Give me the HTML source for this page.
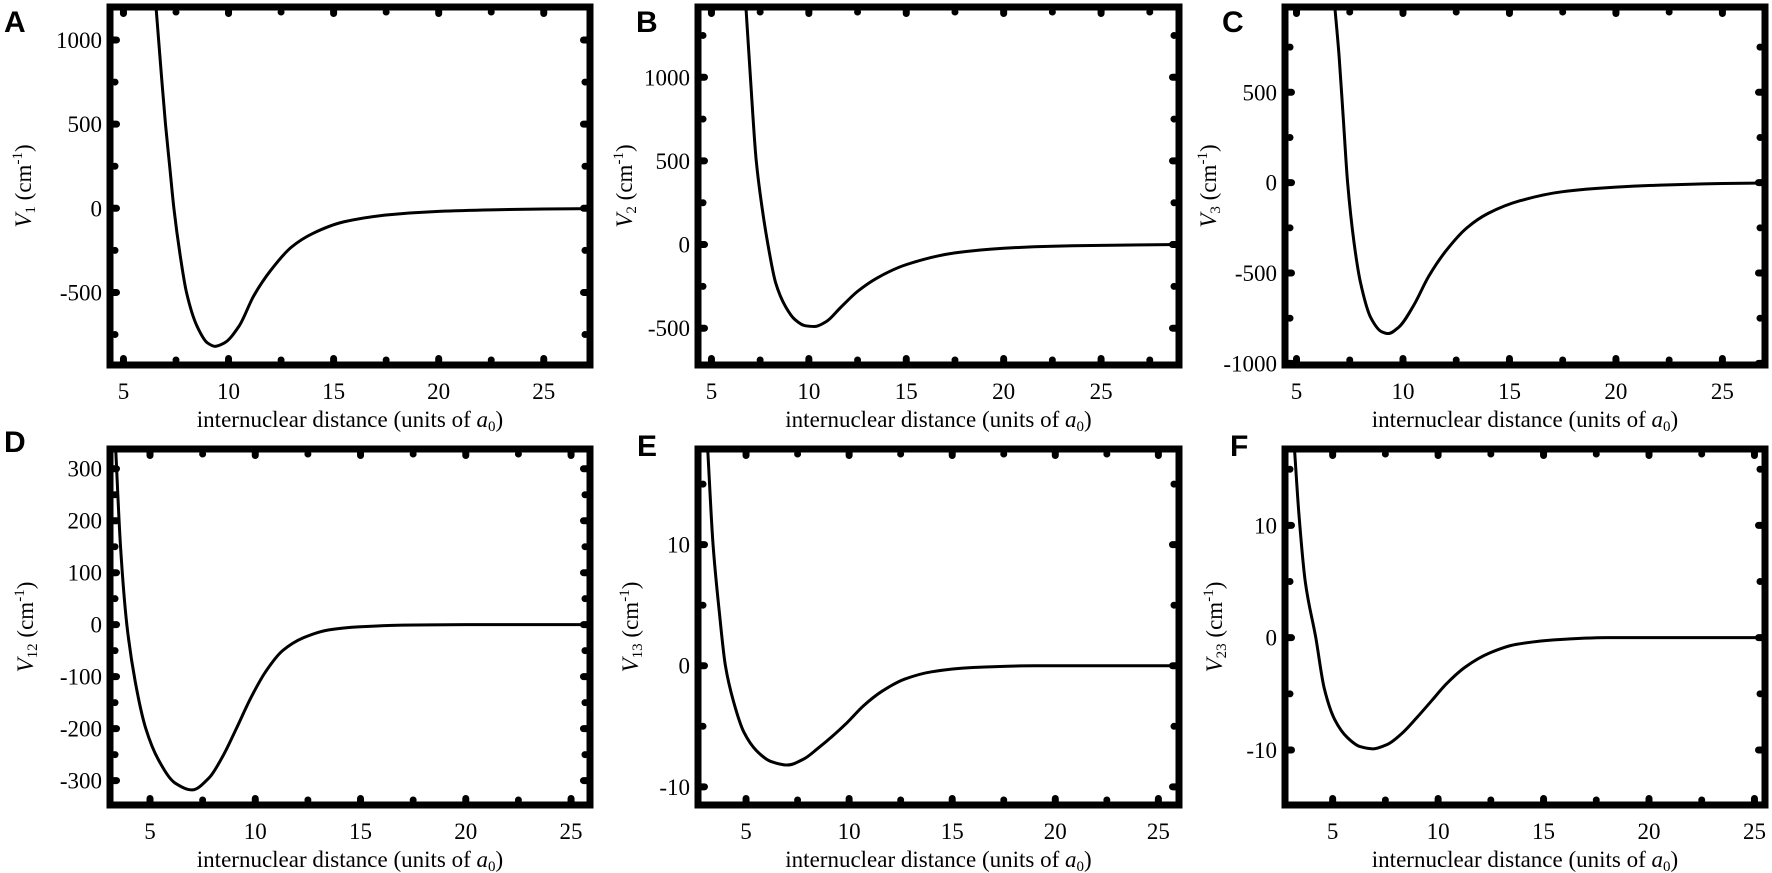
<!DOCTYPE html>
<html><head><meta charset="utf-8"><style>
html,body{margin:0;padding:0;background:#fff;}
svg{display:block;}
text{font-family:"Liberation Serif",serif;fill:#000;}
.lbl{font-family:"Liberation Sans",sans-serif;font-weight:bold;}
</style></head><body>
<svg id="fig" width="1772" height="873" viewBox="0 0 1772 873"></svg>
<script>
// Panel A data
const xA=[6.55,6.8,7.0,7.2,7.4,7.7,8.0,8.5,9.0,9.35,9.8,10.5,11.2,12.0,13.0,14.0,15.5,17.5,20,22.5,25,27.2];
const vA=[1196,800,500,250,0,-280,-500,-700,-800,-820,-800,-700,-520,-370,-230,-150,-80,-40,-18,-9,-4,-2];
// Panel B data
const xB=[6.77,7.0,7.3,7.6,7.9,8.3,8.8,9.3,9.8,10.3,10.9,11.6,12.5,13.5,15,17.5,20,22.5,25,29];
const vB=[1420,1000,500,220,0,-230,-370,-450,-485,-490,-460,-380,-280,-200,-120,-50,-22,-10,-5,0];
// Panel C data
const xC=[6.8,7.0,7.2,7.4,7.7,8.0,8.5,9.0,9.3,9.8,10.5,11.2,12.0,13.0,14.0,15.5,17.5,20,22.5,25,27];
const vC=[972,700,350,0,-330,-550,-750,-825,-835,-800,-680,-520,-380,-250,-170,-100,-50,-25,-12,-5,-2];
// Panel D data
const xD=[3.37,3.6,3.9,4.3,4.8,5.4,6.2,7.0,7.8,8.5,9.1,9.8,10.5,11.3,12.3,13.5,15,17,20,25.9];
const vD=[338,150,0,-110,-200,-260,-305,-318,-295,-250,-200,-140,-90,-50,-25,-10,-4,-1,0,0];
// Panel E data
const xE=[3.14,3.4,3.7,4.0,4.4,4.9,5.5,6.2,7.0,7.8,8.5,9.2,9.9,10.7,11.6,12.7,14,16,19,26];
const vE=[17.9,10,4.5,0,-3,-5.5,-7,-7.9,-8.2,-7.7,-6.8,-5.8,-4.7,-3.3,-2.1,-1.1,-0.5,-0.15,0,0];
// Panel F data
const xF=[3.19,3.4,3.7,4.2,4.6,5.1,5.7,6.3,6.9,7.6,8.3,9.0,9.7,10.4,11.3,12.4,13.7,15.5,18,25.5];
const vF=[16.8,11,5,0,-4.5,-7.3,-8.9,-9.7,-9.9,-9.5,-8.5,-7.1,-5.6,-4.1,-2.6,-1.4,-0.6,-0.2,0,0];
// tick labels
const xTicks=[5,10,15,20,25];
const yTicksA=[-500,0,500,1000];
const yTicksB=[-500,0,500,1000];
const yTicksC=[-1000,-500,0,500];
const yTicksD=[-300,-200,-100,0,100,200,300];
const yTicksE=[-10,0,10];
const yTicksF=[-10,0,10];

const NS="http://www.w3.org/2000/svg";
const svg=document.getElementById('fig');
function mk(tag,attrs,parent){const e=document.createElementNS(NS,tag);for(const k in attrs)e.setAttribute(k,attrs[k]);(parent||svg).appendChild(e);return e;}

function monotonePath(pts){
 const n=pts.length, dx=[], m=[], t=new Array(n);
 for(let i=0;i<n-1;i++){dx[i]=pts[i+1][0]-pts[i][0];m[i]=(pts[i+1][1]-pts[i][1])/dx[i];}
 t[0]=m[0];t[n-1]=m[n-2];
 for(let i=1;i<n-1;i++){
  if(m[i-1]*m[i]<=0)t[i]=0;
  else{const w1=2*dx[i]+dx[i-1],w2=dx[i]+2*dx[i-1];t[i]=(w1+w2)/(w1/m[i-1]+w2/m[i]);}
 }
 let d='M'+pts[0][0].toFixed(2)+','+pts[0][1].toFixed(2);
 for(let i=0;i<n-1;i++){
  const h=dx[i]/3;
  d+=` C${(pts[i][0]+h).toFixed(2)},${(pts[i][1]+t[i]*h).toFixed(2)} ${(pts[i+1][0]-h).toFixed(2)},${(pts[i+1][1]-t[i+1]*h).toFixed(2)} ${pts[i+1][0].toFixed(2)},${pts[i+1][1].toFixed(2)}`;
 }
 return d;
}

const panels=[
 {id:'a',letter:'A',sub:'1',xs:xA,vs:vA,yt:yTicksA,ystep:500,box:[110,7,590,365],xr:[4.36,27.2],yr:[-931,1196],lx:4,ly:32,tx:23},
 {id:'b',letter:'B',sub:'2',xs:xB,vs:vB,yt:yTicksB,ystep:500,box:[698,7,1179,365],xr:[4.31,29.0],yr:[-720,1420],lx:636,ly:32,tx:624},
 {id:'c',letter:'C',sub:'3',xs:xC,vs:vC,yt:yTicksC,ystep:500,box:[1285,7,1765,365],xr:[4.46,27.0],yr:[-1009,972],lx:1222,ly:32,tx:1208},
 {id:'d',letter:'D',sub:'12',xs:xD,vs:vD,yt:yTicksD,ystep:100,box:[110,449,590,805],xr:[3.1,25.9],yr:[-347,338],lx:4,ly:452,tx:25},
 {id:'e',letter:'E',sub:'13',xs:xE,vs:vE,yt:yTicksE,ystep:10,box:[698,449,1179,805],xr:[2.67,26.0],yr:[-11.5,17.9],lx:637,ly:456,tx:630},
 {id:'f',letter:'F',sub:'23',xs:xF,vs:vF,yt:yTicksF,ystep:10,box:[1285,449,1765,805],xr:[2.74,25.5],yr:[-14.9,16.8],lx:1230,ly:456,tx:1214}
];

panels.forEach(p=>{
 const [L,T,R,B]=p.box;
 const sx=v=>L+(v-p.xr[0])/(p.xr[1]-p.xr[0])*(R-L);
 const sy=v=>B-(v-p.yr[0])/(p.yr[1]-p.yr[0])*(B-T);
 const g=mk('g',{});
 
 
 const cp=mk('clipPath',{id:'clip'+p.id},g);
 mk('rect',{x:L,y:T,width:R-L,height:B-T},cp);
 for(let v=2.5;v<=p.xr[1];v+=2.5){
  if(v<p.xr[0])continue;
  const major=(v%5===0);
  const x=sx(v);
  [T+5,B-5].forEach(y=>{
   const d=mk('rect',{x:x-3.5,y:y-(major?5:3.5),width:7,height:major?10:7,rx:3.5},g);
   
   
  });
 }
 const hs=p.ystep/2;
 for(let v=Math.ceil(p.yr[0]/hs)*hs;v<=p.yr[1];v+=hs){
  const major=Math.abs(v/p.ystep-Math.round(v/p.ystep))<1e-6;
  const y=sy(v);
  [L+5,R-5].forEach(x=>{
   const d=mk('rect',{x:x-(major?5:3.5),y:y-3.5,width:major?10:7,height:7,rx:3.5},g);
   
   
  });
 }
 const pts=p.xs.map((x,i)=>[sx(x),sy(p.vs[i])]);
 const path=mk('path',{d:monotonePath(pts),fill:'none',stroke:'#000','stroke-width':3,'stroke-linejoin':'round','clip-path':`url(#clip${p.id})`},g);
 
 
 const fr=mk('rect',{x:L,y:T,width:R-L,height:B-T,fill:'none',stroke:'#000','stroke-width':7},g);
 
 
 xTicks.forEach(v=>{
  const t=mk('text',{x:sx(v),y:B+34,'text-anchor':'middle','font-size':23},g);
  t.textContent=v;
  
  
 });
 p.yt.forEach(v=>{
  const t=mk('text',{x:L-8,y:sy(v)+8,'text-anchor':'end','font-size':23},g);
  t.textContent=v;
  
  
 });
 const xt=mk('text',{x:(L+R)/2,y:B+62,'text-anchor':'middle','font-size':23},g);
 xt.innerHTML='internuclear distance (units of <tspan font-style="italic">a</tspan><tspan font-size="15" dy="4">0</tspan><tspan dy="-4">)</tspan>';
 
 
 const cy=(T+B)/2;
 const yt=mk('text',{x:p.tx+8,y:cy,'text-anchor':'middle','font-size':23,transform:`rotate(-90 ${p.tx+8} ${cy})`},g);
 yt.innerHTML=`<tspan font-style="italic">V</tspan><tspan font-size="15" dy="4">${p.sub}</tspan><tspan dy="-4"> (cm</tspan><tspan font-size="15" dy="-9">-1</tspan><tspan dy="9">)</tspan>`;
 
 
 const lt=mk('text',{x:p.lx,y:p.ly,'font-size':30,class:'lbl'},g);
 lt.textContent=p.letter;
 
 
});
</script>
</body></html>
